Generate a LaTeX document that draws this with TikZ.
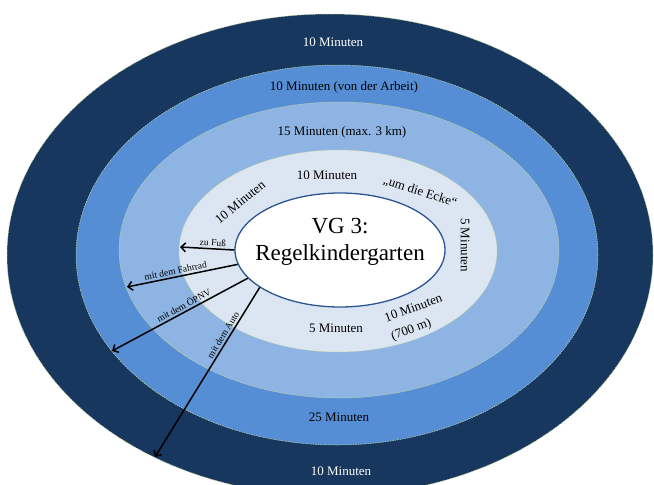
\documentclass[tikz,border=0pt]{standalone}
\usepackage{fontspec}
\setmainfont{Liberation Serif}
\usetikzlibrary{shapes.geometric,arrows.meta}
\definecolor{ringnavy}{HTML}{17375E}
\definecolor{ringmid}{HTML}{558ED5}
\definecolor{ringlight}{HTML}{8EB4E3}
\definecolor{ringpale}{HTML}{DCE6F2}
\definecolor{ringedge}{HTML}{C3D69B}
\definecolor{kitaedge}{HTML}{2C5592}
\tikzset{
	ring/.style={draw=ringedge, line width=0.5pt, dash pattern=on 1.5pt off 1pt},
	zone/.style={font=\fontsize{13}{15}\selectfont, inner sep=1pt},
	way/.style={line width=1.5pt, -{Straight Barb[length=4.5pt,width=9pt]}},
	waylabel/.style={font=\fontsize{9.5}{11}\selectfont, sloped, above, inner sep=2pt},
}
\begin{document}
\begin{tikzpicture}[x=1pt,y=-1pt]

	\useasboundingbox (0,0) rectangle (654,485);
	\clip (0,0) rectangle (654,485);
	\path [ring, fill=ringnavy] (330,255) ellipse [x radius=323pt, y radius=241pt];
	\path [ring, fill=ringmid] (337,255) ellipse [x radius=261pt, y radius=190pt];
	\path [ring, fill=ringlight] (339,250) ellipse [x radius=220pt, y radius=148pt];
	\path [ring, fill=ringpale] (338,251) ellipse [x radius=159pt, y radius=101pt];

	\node [ellipse, draw=kitaedge, line width=1.3pt, fill=white, minimum width=210pt, minimum height=114pt] (kita) at (340,250) {};
	\node [font=\fontsize{23}{27}\selectfont, align=center] (kitaname) at ([yshift=8pt]kita.center) {VG 3:\\Regelkindergarten};

	\node [zone, text=white] (outerlabel) at (333,42) {10 Minuten};
	\node [zone] (worklabel) at (344,87) {10 Minuten (von der Arbeit)};
	\node [zone] (rangelabel) at (342,132) {15 Minuten (max. 3 km)};
	\node [zone] (nearlabel) at (327,175) {10 Minuten};
	\node [zone, rotate=39] (leftlabel) at (240,202) {10 Minuten};
	\node [zone, rotate=-18] (cornerlabel) at (420,192) {„um die Ecke“};
	\node [zone, rotate=-90] (rightlabel) at (465,245) {5 Minuten};
	\node [zone, rotate=20, align=left, font=\fontsize{13}{19}\selectfont] (distlabel) at (417,318) {10 Minuten\\(700 m)};
	\node [zone] (shortlabel) at (336,328) {5 Minuten};
	\node [zone] (farlabel) at (339,417) {25 Minuten};
	\node [zone, text=white] (bottomlabel) at (341,471) {10 Minuten};

	\coordinate (foot) at (180,247);
	\coordinate (bike) at (127,287);
	\coordinate (transit) at (112,351);
	\coordinate (car) at (155,457);
	\draw [way] (kita.180) -- node [waylabel, pos=0.4] {zu Fuß} (foot);
	\draw [way] (kita.188) -- node [waylabel, pos=0.55] {mit dem Fahrrad} (bike);
	\draw [way] (kita.197) -- node [waylabel, pos=0.45] {mit dem ÖPNV} (transit);
	\draw [way] (kita.205) -- node [waylabel, pos=0.3] {mit dem Auto} (car);

\end{tikzpicture}
\end{document}
